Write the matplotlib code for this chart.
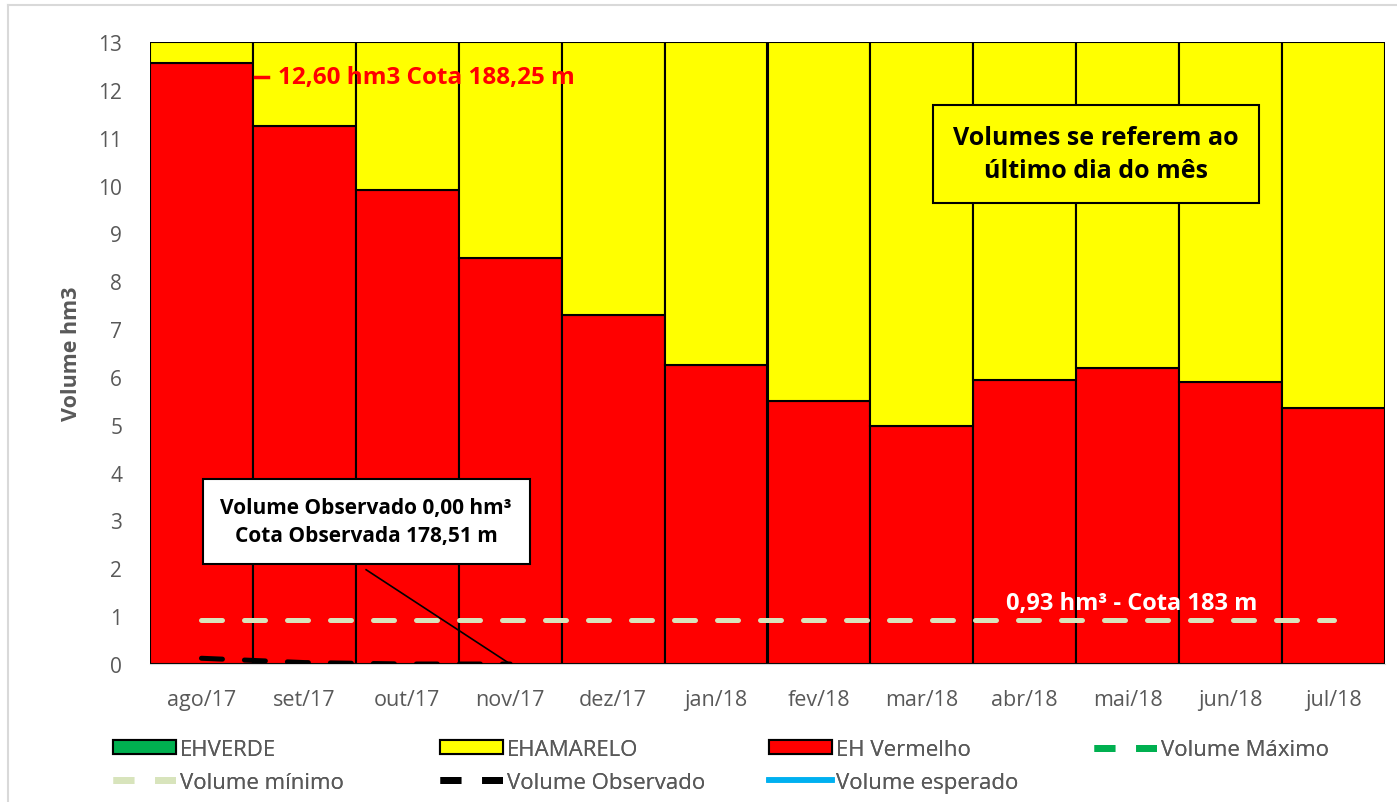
import numpy as np
import matplotlib
matplotlib.use("Agg")
import matplotlib.pyplot as plt
from matplotlib.lines import Line2D
from matplotlib.patches import Patch

plt.rcParams['font.family'] = ['Open Sans', 'DejaVu Sans']

meses = ['ago/17', 'set/17', 'out/17', 'nov/17', 'dez/17', 'jan/18',
         'fev/18', 'mar/18', 'abr/18', 'mai/18', 'jun/18', 'jul/18']
eh_verde = [0, 0, 0, 0, 0, 0, 0, 0, 0, 0, 0, 0]
eh_vermelho = [12.57, 11.25, 9.90, 8.49, 7.29, 6.25, 5.50, 4.98, 5.94, 6.19, 5.90, 5.36]
eh_amarelo_topo = 13.0
volume_minimo = 0.93
volume_observado = [0.12, 0.03, 0.0, 0.0]

cinza = '#595959'
x = np.arange(len(meses))
amarelo = [eh_amarelo_topo - v for v in eh_vermelho]

fig = plt.figure(figsize=(13.97, 8.03), dpi=100)
ax = fig.add_axes([150/1397, 1 - 665/803, 1235/1397, 622/803])

ax.bar(x, eh_verde, width=1.0, color='#00b050', edgecolor='black', linewidth=1.5)
ax.bar(x, eh_vermelho, width=1.0, color='#ff0000', edgecolor='black', linewidth=1.5)
ax.bar(x, amarelo, bottom=eh_vermelho, width=1.0, color='#ffff00', edgecolor='black', linewidth=1.5)

tracejado = (0, (4.2, 4.4))
ax.plot(x, [volume_minimo] * len(x), color='#d8e4bc', lw=3.6, ls=tracejado,
        dash_capstyle='round', zorder=3)
ax.plot(x[:len(volume_observado)], volume_observado, color='black', lw=3.6,
        ls=tracejado, dash_capstyle='round', zorder=3)

ax.set_xlim(-0.5, 11.5)
ax.set_ylim(0, 13)
ax.set_yticks(range(0, 14))
ax.set_xticks(x)
ax.set_xticklabels(meses)
ax.tick_params(length=0, labelsize=15.5, colors=cinza, pad=18)
ax.tick_params(axis='y', labelsize=15, pad=20)
for s in ['top', 'right', 'left']:
    ax.spines[s].set_visible(False)
ax.spines['bottom'].set_color('#d9d9d9')
ax.set_ylabel('Volume hm3', fontsize=15.5, fontweight='bold', color=cinza, labelpad=12)

# rótulo do volume inicial
ax.plot([0.52, 0.65], [12.27, 12.27], color='#ff0000', lw=2.5, zorder=4)
ax.text(0.74, 12.27, '12,60 hm3 Cota 188,25 m', color='#ff0000', fontsize=17.5,
        fontweight='bold', va='center', ha='left', zorder=4)

# caixa do volume observado
ax.plot([1.6, 3.0], [1.97, 0.0], color='black', lw=1.2, zorder=4)
ax.text(1.6, 2.98, 'Volume Observado 0,00 hm³\nCota Observada 178,51 m',
        fontsize=15, fontweight='bold', ha='center', va='center', linespacing=1.45,
        bbox=dict(boxstyle='square,pad=0.85', fc='white', ec='black', lw=1.5), zorder=5)

ax.text(9.04, 1.27, '0,93 hm³ - Cota 183 m', color='white', fontsize=17,
        fontweight='bold', ha='center', va='center', zorder=4)

ax.text(8.69, 10.66, 'Volumes se referem ao\núltimo dia do mês', fontsize=18,
        fontweight='bold', ha='center', va='center', linespacing=1.45,
        bbox=dict(boxstyle='square,pad=0.8', fc='#ffff00', ec='black', lw=1.5), zorder=5)

leg_dash = (0, (3, 3))
colunas = [
    [Patch(fc='#00b050', ec='black', lw=1.5, label='EHVERDE'),
     Line2D([], [], color='#d8e4bc', lw=5, ls=leg_dash, label='Volume mínimo')],
    [Patch(fc='#ffff00', ec='black', lw=1.5, label='EHAMARELO'),
     Line2D([], [], color='black', lw=5, ls=leg_dash, label='Volume Observado')],
    [Patch(fc='#ff0000', ec='black', lw=1.5, label='EH Vermelho'),
     Line2D([], [], color='#00b0f0', lw=4, label='Volume esperado')],
    [Line2D([], [], color='#00b050', lw=5, ls=leg_dash, label='Volume Máximo')],
]
x_col = [113, 440, 769, 1094]
for xc, hs in zip(x_col, colunas):
    leg = fig.legend(handles=hs, loc='upper left', bbox_to_anchor=(xc/1397, 1 - 740/803),
                     frameon=False, fontsize=16, handlelength=2.85, handleheight=0.55,
                     handletextpad=0.15, labelspacing=0.52, borderaxespad=0, borderpad=0)
    for t in leg.get_texts():
        t.set_color(cinza)
    fig.add_artist(leg)

# moldura do gráfico
fig.add_artist(Line2D([8/1397, 1], [1 - 6/803, 1 - 6/803], color='#d9d9d9', lw=1.5))
fig.add_artist(Line2D([8/1397, 8/1397], [0, 1 - 6/803], color='#d9d9d9', lw=1.5))

fig.savefig('out.png', dpi=100)
